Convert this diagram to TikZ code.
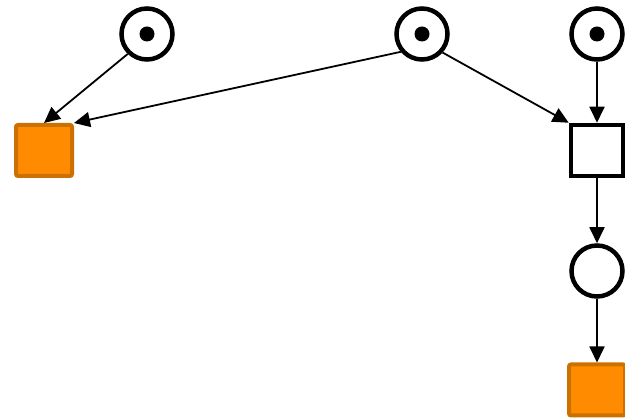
\documentclass[tikz,border=0pt]{standalone}
\usepackage{tikz}
\usetikzlibrary{arrows.meta, positioning}
\definecolor{FireColor}{RGB}{255,140,0}
\definecolor{FireEdge}{RGB}{204,112,0}
\tikzset{
  placenode/.style={circle, draw=black, line width=4.5pt, minimum size=51pt, inner sep=0pt, fill=white},
  transnode/.style={rectangle, draw=black, line width=4.5pt, minimum width=52pt, minimum height=51pt, inner sep=0pt, fill=white},
  firenode/.style={rectangle, draw=FireEdge, fill=FireColor, line width=4pt, rounded corners=2pt, minimum width=56pt, minimum height=51pt, inner sep=0pt},
  arc/.style={-{Triangle[length=16pt, width=15pt]}, line width=1.8pt}
}
\begin{document}
\begin{tikzpicture}[x=1pt, y=-1pt]
  \useasboundingbox (0,0) rectangle (625,419);
  % Places with tokens
  \node[placenode] (pa) at (147,34) {};
  \node[placenode] (pb) at (422,34) {};
  \node[placenode] (pc) at (597,34) {};
  \node[placenode] (pd) at (597,271) {};
  \foreach \p in {pa,pb,pc} {\fill (\p) circle (7.5pt);}
  % Transitions
  \node[firenode] (fa) at (44,150.5) {};
  \node[transnode] (ta) at (597,150.5) {};
  \node[firenode] (fb) at (597,390) {};
  % Arcs
  \draw[arc] (pa.226) -- (fa.north);
  \draw[arc] (pb.220) -- (fa.north east);
  \draw[arc] (pb.318) -- (ta.north west);
  \draw[arc] (pc) -- (ta);
  \draw[arc] (ta) -- (pd);
  \draw[arc] (pd) -- (fb);
\end{tikzpicture}
\end{document}
